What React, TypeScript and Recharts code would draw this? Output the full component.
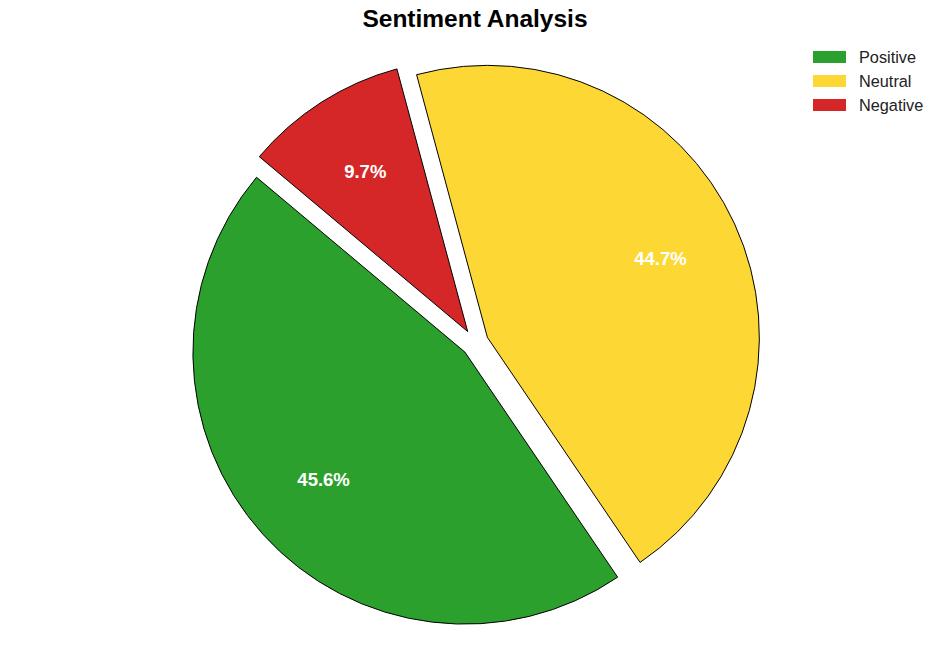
import React from "react";
import { PieChart, Pie, Cell, Sector } from "recharts";

const categories = ["Positive", "Neutral", "Negative"];
const shares = [45.6, 44.7, 9.7];
const colors = ["#2ca02c", "#fdd835", "#d62728"];

const data = categories.map((name, i) => ({ name, value: shares[i] }));

const RADIAN = Math.PI / 180;
const R = 272;
const EXPLODE = 0.05 * R;

function ExplodedSlice(props: any) {
  const { cx, cy, midAngle } = props;
  const dx = EXPLODE * Math.cos(-midAngle * RADIAN);
  const dy = EXPLODE * Math.sin(-midAngle * RADIAN);
  return (
    <Sector
      {...props}
      cx={cx + dx}
      cy={cy + dy}
      stroke="#000"
      strokeWidth={1}
    />
  );
}

function renderLabel(props: any) {
  const { cx, cy, midAngle, outerRadius, index } = props;
  const ox = cx + EXPLODE * Math.cos(-midAngle * RADIAN);
  const oy = cy + EXPLODE * Math.sin(-midAngle * RADIAN);
  const r = outerRadius * 0.7;
  const x = ox + r * Math.cos(-midAngle * RADIAN);
  const y = oy + r * Math.sin(-midAngle * RADIAN);
  return (
    <text
      x={x}
      y={y}
      fill="#fff"
      textAnchor="middle"
      dominantBaseline="central"
      style={{ fontFamily: "Liberation Sans, Arial, sans-serif", fontSize: 18.5, fontWeight: 700 }}
    >
      {shares[index].toFixed(1)}%
    </text>
  );
}

export default function App() {
  return (
    <div
      style={{
        position: "absolute",
        left: 0,
        top: 0,
        width: 950,
        height: 662,
        background: "#fff",
        fontFamily: "Liberation Sans, Arial, sans-serif",
      }}
    >
      <div
        style={{
          position: "absolute",
          top: 5,
          left: 0,
          width: 950,
          textAlign: "center",
          fontSize: 24.5,
          fontWeight: 700,
          color: "#000",
        }}
      >
        Sentiment Analysis
      </div>
      <div style={{ position: "absolute", left: 813, top: 45 }}>
        {categories.map((c, i) => (
          <div
            key={c}
            style={{ display: "flex", alignItems: "center", height: 24 }}
          >
            <div style={{ width: 33, height: 12, background: colors[i] }} />
            <span style={{ marginLeft: 13, fontSize: 16.3, color: "#222" }}>{c}</span>
          </div>
        ))}
      </div>
      <PieChart width={950} height={662}>
        <Pie
          data={data}
          dataKey="value"
          nameKey="name"
          cx={470}
          cy={338}
          outerRadius={R}
          startAngle={140}
          endAngle={500}
          paddingAngle={0}
          label={renderLabel}
          labelLine={false}
          shape={ExplodedSlice}
          isAnimationActive={false}
        >
          {data.map((d, i) => (
            <Cell key={d.name} fill={colors[i]} stroke="#000" />
          ))}
        </Pie>
      </PieChart>
    </div>
  );
}
